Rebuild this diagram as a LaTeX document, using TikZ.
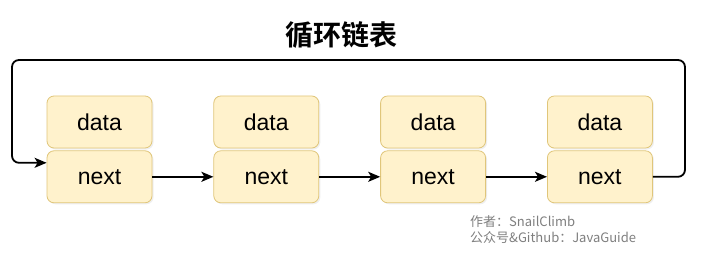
\documentclass[tikz,border=0pt]{standalone}
\usepackage{fontspec}
\setmainfont{Liberation Sans}
\newfontfamily\cjk{Noto Sans CJK SC}[BoldFont=* Bold]
\usepackage{tikz}
\usetikzlibrary{arrows.meta,positioning,shadows}
\definecolor{cellfill}{HTML}{FFF2CC}
\definecolor{celldraw}{HTML}{E0C67A}
\definecolor{notegray}{HTML}{7F7F7F}
\tikzset{
  cell/.style={rectangle,draw=celldraw,line width=0.8pt,rounded corners=7pt,fill=cellfill,minimum width=105pt,minimum height=52pt,font=\fontsize{23}{25}\selectfont,drop shadow={opacity=0.12,shadow xshift=1.5pt,shadow yshift=-1.5pt}},
  arr/.style={-{Stealth[length=12pt,width=10pt,inset=3pt]},line width=1.8pt},
  note/.style={anchor=west,font=\cjk\fontsize{13}{15}\selectfont,text=notegray,inner sep=0pt},
}

\begin{document}
\begin{tikzpicture}[x=1pt,y=-1pt, node distance=61pt]
  \useasboundingbox[fill=white] (0,0) rectangle (705,254);
  \node[font=\cjk\bfseries\fontsize{28}{30}\selectfont] (title) at (341,35) {循环链表};
  \node[cell] (d1) at (99.5,122) {data};
  \node[cell,right=of d1] (d2) {data};
  \node[cell,right=of d2] (d3) {data};
  \node[cell,right=of d3] (d4) {data};
  \node[cell,below=2pt of d1] (n1) {next};
  \node[cell,below=2pt of d2] (n2) {next};
  \node[cell,below=2pt of d3] (n3) {next};
  \node[cell,below=2pt of d4] (n4) {next};
  \draw[arr] (n1) -- (n2); \draw[arr] (n2) -- (n3); \draw[arr] (n3) -- (n4);
  % back to the head
  \coordinate (tr) at (685,60);
  \coordinate (tl) at (12,60);
  \draw[arr,rounded corners=7pt] (n4.east) -| (tr) -- (tl) |- ([yshift=14pt]n1.west);
  \node[note] (au) at (470,222) {作者：SnailClimb};
  \node[note] (gz) at (470,238) {公众号\&Github：JavaGuide};
\end{tikzpicture}
\end{document}
